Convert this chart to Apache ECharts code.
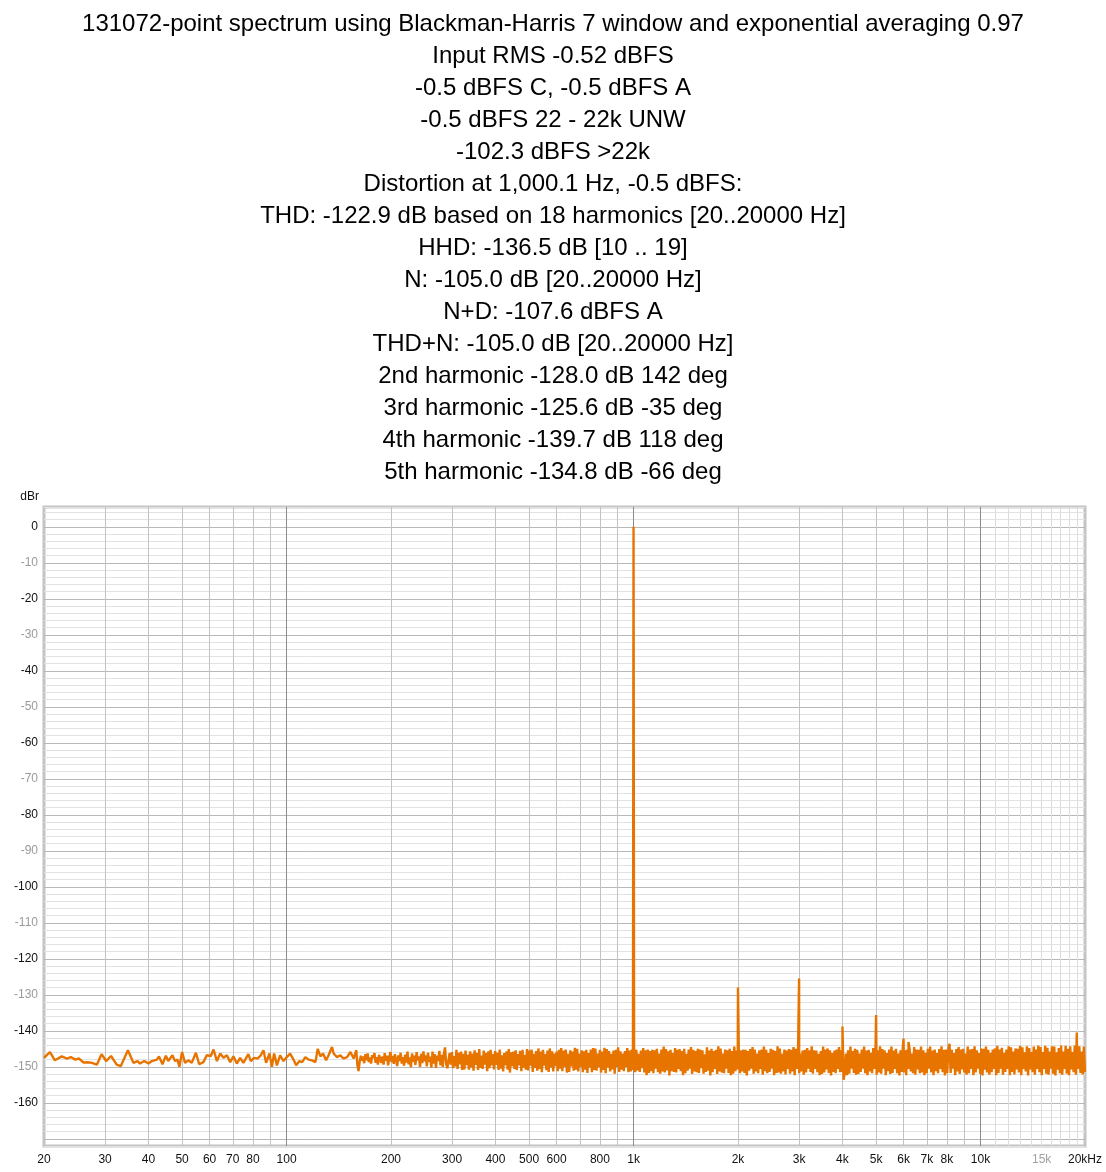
<!DOCTYPE html>
<html><head><meta charset="utf-8">
<script src="https://cdn.jsdelivr.net/npm/echarts@6/dist/echarts.min.js"></script>
<style>html,body{margin:0;padding:0;background:#fff}#c{width:1106px;height:1172px}</style>
</head><body><div id="c"></div>
<script>
const titleLines = [
  '131072-point spectrum using Blackman-Harris 7 window and exponential averaging 0.97',
  'Input RMS -0.52 dBFS',
  '-0.5 dBFS C, -0.5 dBFS A',
  '-0.5 dBFS 22 - 22k UNW',
  '-102.3 dBFS >22k',
  'Distortion at 1,000.1 Hz, -0.5 dBFS:',
  'THD: -122.9 dB based on 18 harmonics [20..20000 Hz]',
  'HHD: -136.5 dB [10 .. 19]',
  'N: -105.0 dB [20..20000 Hz]',
  'N+D: -107.6 dBFS A',
  'THD+N: -105.0 dB [20..20000 Hz]',
  '2nd harmonic -128.0 dB 142 deg',
  '3rd harmonic -125.6 dB -35 deg',
  '4th harmonic -139.7 dB 118 deg',
  '5th harmonic -134.8 dB -66 deg'
];
const xTickValues = [20,30,40,50,60,70,80,100,200,300,400,500,600,800,1000,2000,3000,4000,5000,6000,7000,8000,10000,15000,20000];
const xTickLabels = ['20','30','40','50','60','70','80','100','200','300','400','500','600','800','1k','2k','3k','4k','5k','6k','7k','8k','10k','15k','20kHz'];
const minorGridHz = [30,40,50,60,70,80,90,200,300,400,500,600,700,800,900,2000,3000,4000,5000,6000,7000,8000,9000];
const fineGridHz = [11000,12000,13000,14000,15000,16000,17000,18000,19000];
const majorGridHz = [100,1000,10000];
const majorGridDb = [0,-10,-20,-30,-40,-50,-60,-70,-80,-90,-100,-110,-120,-130,-140,-150,-160,-170];

const lowFreqs = [20.0,20.8,21.5,22.5,23.3,23.9,24.6,25.2,26.0,26.7,27.5,28.4,29.3,30.2,31.2,32.4,33.3,34.9,36.2,37.2,37.8,38.9,40.0,40.9,42.3,42.9,43.9,44.9,45.6,46.9,47.7,48.5,49.1,50.0,51.0,52.1,53.3,54.8,56.0,57.6,58.9,60.5,61.6,63.0,64.4,65.8,67.3,68.8,70.3,71.9,73.5,75.1,77.6,78.9,80.6,82.4,84.3,85.8,87.3,89.3,90.7,92.1,93.8,95.8,98.0,100.2,102.4,104.7,106.6,108.9,110.9,113.3,115.8,118.4,121.1,123.0,125.2,127.4,130.0,132.2,135.2,136.7,139.8,142.9,146.1,149.4,152.8,156.1,158.9];
const lowLevels = [-147.5,-145.9,-148.2,-147.1,-147.7,-147.3,-148.0,-147.7,-148.8,-148.75,-148.9,-149.4,-146.5,-148.4,-147.0,-149.4,-149.8,-145.4,-148.9,-148.4,-149.1,-148.4,-149.1,-148.4,-148.0,-147.1,-149.3,-146.9,-148.4,-146.8,-148.4,-148.0,-150.0,-145.9,-148.9,-148.2,-148.9,-146.1,-149.3,-148.7,-146.8,-147.0,-145.2,-148.4,-146.3,-147.5,-146.8,-148.7,-147.1,-149.1,-147.5,-148.9,-146.5,-148.4,-147.5,-147.7,-146.8,-145.4,-148.9,-146.3,-150.0,-146.3,-149.6,-146.8,-148.4,-147.3,-146.3,-148.0,-149.6,-148.4,-148.7,-147.3,-148.0,-148.2,-148.7,-145.0,-147.1,-146.3,-148.2,-146.8,-144.5,-146.3,-147.3,-146.8,-147.7,-147.3,-145.9,-147.7,-145.4];

const denseStartHz = 160, denseEndHz = 20000;
const denseLevels = [
-149.5,-151.2,-148.6,-146.9,-148.3,-147.1,-149,-146.5,-148.2,-146.3,-148.7,-147.4,-149.1,-146.8,-147.6,-146.2,-148.9,-147.3,-149.4,-146.7,
-146.4,-148.9,-147.1,-149.4,-146.2,-148.3,-146.9,-149.6,-147.5,-145.9,-148.7,-147,-149.2,-146.5,-148.1,-149.8,-146.8,-148.4,-146.1,-149.1,
-147.3,-149.7,-146.6,-148.8,-145.8,-149.3,-147.4,-150.1,-146.3,-148.6,-146.9,-149.5,-145.9,-148.2,-147.1,-150,-146.4,-149,-145.7,-148.5,
-146.8,-149.9,-146.1,-148.7,-147.2,-150.2,-145.8,-149.1,-146.5,-150.3,-146.9,-148.4,-145.6,-149.6,-146.7,-150,-146.2,-144.6,-149.3,-150.4,
-150.1,-146.2,-149.4,-145.9,-150.4,-147,-149.9,-145.3,-150.6,-146.1,-149.3,-145.8,-150.9,-146.4,-150.7,-145.5,-149.5,-146.6,-150.8,-145.7,
-150.2,-146.3,-151.1,-145.4,-149.5,-146.1,-150.9,-145.1,-150.3,-146.9,-150.6,-145.5,-149.4,-146.2,-151.2,-145.7,-150.4,-145.3,-149.6,-146.5,
-150.7,-145.6,-149.5,-146.1,-150.9,-145.2,-150.5,-146.8,-151.3,-146.2,-149.6,-145.7,-150.8,-145.1,-151.6,-146,-149.8,-145.8,-150.6,-145.4,
-150.9,-146.5,-149.6,-145.6,-151.2,-145.3,-150.2,-146.7,-150.8,-145.1,-151,-145.5,-149.7,-145.2,-151.4,-146.4,-150.3,-145.6,-151.1,-144.9,
-150.6,-145.8,-151.5,-145.3,-149.7,-146.5,-150.9,-145.5,-151.4,-144.9,-150.2,-145.7,-151.3,-146.3,-149.8,-145.8,-151.2,-145.3,-150.5,-144.8,
-151.2,-145.5,-150,-145.2,-151.6,-146.4,-151.4,-145.4,-149.9,-145.8,-151.1,-144.7,-150.8,-145,-151.3,-146.3,-150.1,-145.4,-151.5,-145.7,
-150.8,-145.3,-151.7,-146.2,-150.2,-145.2,-151.5,-144.8,-150.9,-144.9,-151.1,-146.3,-150,-145.3,-151.6,-145.8,-150.9,-144.7,-151.8,-145.1,
-150.2,-145.6,-151.3,-146.4,-150.7,-145.5,-151.9,-145.3,-150.1,-144.6,-151.4,-145.7,-150.8,-146.3,-151.2,-145.6,-150,-144.8,-151.5,-145.5,
-151.3,-145.2,-150.9,-144.3,-151.5,-145.3,-151,-146.4,-151.4,-145.5,-150.4,-144.8,-151.6,-145.4,-152.3,-145.2,-151.7,-145.6,-151.2,-145.3,
-151.8,-145.4,-150.5,-145,-151.5,-146.3,-151.9,-145.2,-151.3,-144.4,-151.6,-145.1,-151,-145.7,-152.4,-145.3,-151.2,-146.2,-151.4,-144.8,
-151.6,-145.3,-150.6,-145.1,-151.2,-145.6,-152.3,-145,-151.8,-146.4,-151.1,-145.2,-150.5,-144.5,-152,-145.3,-151.3,-145.6,-151.5,-145,
-151.7,-145.2,-150.4,-145.4,-151.9,-146.5,-151.4,-144.6,-151.1,-145.5,-152.4,-145,-151.5,-145.6,-150.6,-145.3,-152,-144.3,-151.3,-144.9,
-151.6,-146.3,-151.8,-145.2,-150.5,-145.4,-151.7,-145,-152.3,-145.6,-151.9,-144.4,-151.2,-145.5,-150.7,-146.1,-151.8,-145.4,-151.3,-145.2,
-151.7,-145.3,-152.4,-145.6,-151.1,-145.1,-150.5,-144.5,-151.9,-145.2,-151.3,-146.3,-151.8,-145.4,-150.6,-145.2,-152.2,-144.4,-151.2,-145.3,
-151.8,-146.2,-151.4,-145,-150.5,-145.3,-152.3,-145.6,-151.7,-144.3,-151.6,-144.9,-151.9,-146.4,-151.3,-145.2,-152.1,-145.5,-150.6,-145.1,
-151.9,-145.3,-151.3,-144.5,-152.3,-145,-150.6,-145.4,-151.8,-146.3,-151.3,-145.5,-152.2,-145.3,-151.6,-144.8,-150.5,-145.4,-151.4,-144.3,
-151.9,-145.4,-150.6,-145.5,-151.5,-146.4,-152.3,-145.6,-152,-144.4,-151.6,-145.2,-150.7,-144.9,-151.7,-145.4,-152.4,-146.2,-151.4,-145.5,
-151.8,-145.2,-150.6,-144.5,-151.5,-145.4,-151.4,-153.6,-151.7,-146.3,-152.3,-145.4,-151.9,-144.4,-150.5,-145.6,-151.7,-145,-152.2,-145.3,
-152,-146.3,-151.4,-145.2,-150.5,-144.4,-151.8,-145.5,-152.3,-145.3,-151.3,-146.1,-151.8,-144.8,-150.6,-145.2,-152.2,-145.4,-151.6,-144.3,
-151.9,-145.1,-150.5,-145.4,-152.3,-146.2,-151.2,-145.2,-152,-144.4,-151.7,-145.5,-150.6,-145,-151.8,-146.3,-152.4,-145.4,-151.4,-144.6,
-151.6,-145.4,-152.3,-145.2,-150.6,-145.1,-151.3,-146.3,-151.8,-144.5,-152.2,-145.2,-150.7,-145.3,-151.8,-144.4,-151.6,-145.4,-152.3,-146.1,
-151.8,-145,-150.5,-144.4,-151.6,-145.5,-152.3,-145.2,-151.2,-146.2,-151.8,-145.1,-150.6,-144.3,-151.5,-145.3,-152.4,-145.2,-151.8,-145.1,
-143.6,-151.7,-145.3,-150.5,-146.2,-152.3,-145.1,-151.3,-144.5,-152,-145.2,-150.7,-145,-151.6,-146.3,-152.2,-144.4,-151.8,-145.2,-150.6,
-145.1,-152.3,-144.3,-151.6,-145.4,-150.5,-146.2,-151.9,-144.9,-152.4,-145,-150.8,-144.4,-151.6,-145.3,-152.2,-146.1,-151.5,-145.2,-150.6,
-144.9,-152.3,-144.2,-151.7,-145.2,-150.5,-144.7,-152.2,-146.1,-151.4,-145.2,-150.6,-144.3,-152.3,-144.6,-151.4,-145.8,-152.1,-144.9,-150.7,
-145,-151.6,-144.2,-152.3,-144.6,-150.6,-146,-151.3,-144.3,-152.4,-144.8,-150.7,-145.9,-151.5,-144.4,-152.2,-145.2,-150.6,-144.1,-151.5,
-144.5,-152.3,-145.9,-150.6,-144.2,-151.9,-144.7,-152.2,-145.8,-150.5,-144.3,-151.9,-144.4,-152.4,-146,-150.8,-144.8,-151.8,-144.1,-152.2,
-145.8,-150.6,-144.2,-151.9,-145,-152.3,-144.3,-150.7,-145.9,-151.5,-144.1,-152.2,-145.1,-150.6,-144.3,-151.7,-145.8,-152.1,-144.4,-151.4
];
const spikeFreqs = [1000, 2000, 3000, 4000, 5000, 6000, 6200, 18940];
const spikeLevels = [0, -128.0, -125.5, -138.8, -135.6, -142.2, -143.1, -140.5];

const lowPts = lowFreqs.map((f, i) => [f, lowLevels[i]]);
const nD = denseLevels.length;
const densePts = denseLevels.map((v, i) => [denseStartHz * Math.pow(denseEndHz / denseStartHz, i / (nD - 1)), v]);
const spikePts = spikeFreqs.map((f, i) => [f, spikeLevels[i]]);
const trace = lowPts.concat(densePts, spikePts).sort((a, b) => a[0] - b[0]);

const labelMap = {};
xTickValues.forEach((v, i) => { labelMap[v] = xTickLabels[i]; });
const FONT = '"Liberation Sans", Arial, sans-serif';

function vLines(list, color) {
  return list.map(v => ({ xAxis: v, lineStyle: { color: color, width: 1, type: 'solid' } }));
}

const chart = echarts.init(document.getElementById('c'), null, { renderer: 'canvas' });
chart.setOption({
  animation: false,
  backgroundColor: '#fff',
  textStyle: { fontFamily: FONT },
  title: {
    text: titleLines.join('\n'),
    left: 'center', top: 3,
    textStyle: { fontFamily: FONT, fontSize: 24, fontWeight: 'normal', color: '#000', lineHeight: 32 }
  },
  grid: {
    left: 44, right: 21, top: 507, bottom: 26,
    show: true, borderColor: '#c4c4c4', borderWidth: 3, backgroundColor: '#fff'
  },
  xAxis: {
    type: 'log', logBase: 10, min: 20, max: 20000,
    axisLine: { show: false },
    axisTick: { show: false },
    splitLine: { show: false },
    minorTick: { show: false },
    axisLabel: {
      customValues: xTickValues,
      margin: 8,
      fontSize: 12, fontFamily: FONT,
      formatter: v => {
        const t = labelMap[Math.round(v)] || '';
        return t === '15k' ? '{g|' + t + '}' : '{k|' + t + '}';
      },
      rich: { k: { color: '#111', fontSize: 12, fontFamily: FONT }, g: { color: '#a0a0a0', fontSize: 12, fontFamily: FONT } }
    }
  },
  yAxis: {
    type: 'value', min: -172, max: 5.5, interval: 2,
    name: 'dBr', nameLocation: 'end', nameGap: 10,
    nameTextStyle: { color: '#111', fontSize: 12, fontFamily: FONT, align: 'right', verticalAlign: 'middle', padding: [0, 5, 0, 0] },
    axisLine: { show: false },
    axisTick: { show: false },
    splitLine: { show: true, lineStyle: { color: '#e2e2e2', width: 1 } },
    axisLabel: {
      margin: 6, fontSize: 12, fontFamily: FONT,
      formatter: v => {
        const r = Math.round(v);
        if (Math.abs(v - r) > 1e-6 || r % 10 !== 0 || r < -160) return '';
        return (r % 20 === 0 ? '{k|' : '{g|') + r + '}';
      },
      rich: { k: { color: '#111', fontSize: 12, fontFamily: FONT }, g: { color: '#999', fontSize: 12, fontFamily: FONT } }
    }
  },
  series: [
    {
      type: 'line', data: [], z: 1, silent: true,
      markLine: {
        silent: true, symbol: 'none', animation: false, z: 1,
        label: { show: false },
        data: [].concat(
          majorGridDb.map(v => ({ yAxis: v, lineStyle: { color: '#b8b8b8', width: 1, type: 'solid' } })),
          vLines(fineGridHz, '#dcdcdc'),
          vLines(minorGridHz, '#c2c2c2'),
          vLines(majorGridHz, '#8c8c8c')
        )
      }
    },
    {
      type: 'line', data: trace, z: 10,
      showSymbol: false, symbol: 'none', smooth: false, sampling: null,
      lineStyle: { color: '#e87400', width: 2.4 },
      itemStyle: { color: '#e87400' }
    }
  ]
});
</script>
</body></html>
